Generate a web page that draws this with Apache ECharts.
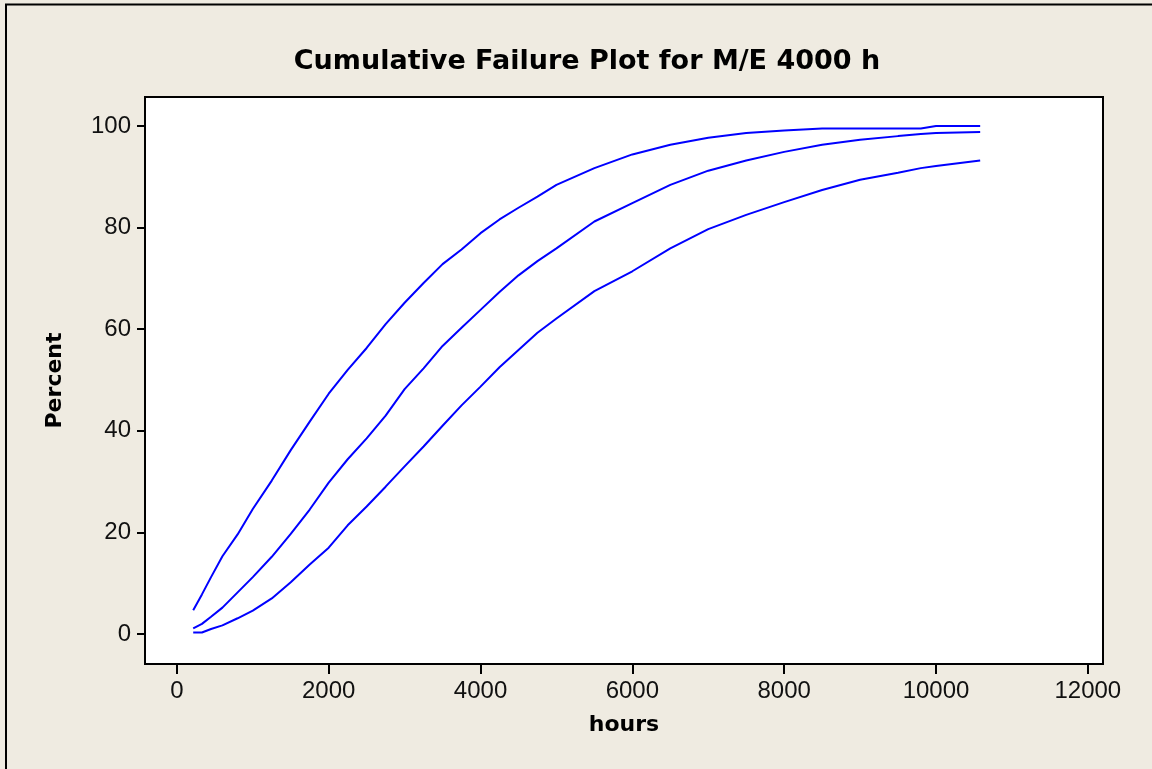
<!DOCTYPE html>
<html>
<head>
<meta charset="utf-8">
<script src="https://cdn.jsdelivr.net/npm/echarts@6/dist/echarts.min.js"></script>
<style>
  html, body { margin: 0; padding: 0; background: #efebe1; }
  #chart { width: 1152px; height: 769px; }
</style>
</head>
<body>
<div id="chart"></div>
<script>
var hours = [215, 330, 450, 600, 800, 1000, 1250, 1500, 1750, 2000, 2250, 2500, 2750, 3000, 3250, 3500, 3750,
  4000, 4250, 4500, 4750, 5000, 5500, 6000, 6500, 7000, 7500, 8000, 8500, 9000, 9500, 9800, 10000, 10582]
// upper confidence bound
var upperPct = [4.7, 7.8, 11.2, 15.3, 19.6, 24.6, 30.2, 36.2, 41.8, 47.3, 52.0, 56.3, 61.0, 65.2, 69.1, 72.8, 75.7,
  78.9, 81.6, 83.9, 86.1, 88.4, 91.7, 94.4, 96.3, 97.7, 98.6, 99.1, 99.5, 99.5, 99.5, 99.5, 100, 100]
// fitted cumulative failure
var fitPct = [1.1, 2.0, 3.4, 5.2, 8.2, 11.2, 15.2, 19.7, 24.5, 29.8, 34.4, 38.5, 43.0, 48.2, 52.3, 56.7, 60.3,
  63.8, 67.3, 70.6, 73.4, 75.9, 81.2, 84.8, 88.4, 91.2, 93.2, 94.9, 96.3, 97.3, 98.0, 98.4, 98.6, 98.8]
// lower confidence bound
var lowerPct = [0.3, 0.3, 1.0, 1.7, 3.1, 4.6, 7.0, 10.2, 13.7, 17.0, 21.4, 25.1, 29.0, 33.0, 36.9, 41.0, 45.0,
  48.7, 52.5, 55.9, 59.3, 62.1, 67.5, 71.4, 75.9, 79.7, 82.5, 85.0, 87.4, 89.4, 90.8, 91.7, 92.1, 93.2]

var xTicks = [0, 2000, 4000, 6000, 8000, 10000, 12000]
var yTicks = [0, 20, 40, 60, 80, 100]

function pairs(vals) {
  var out = []
  for (var i = 0; i < hours.length; i++) {
    out.push([hours[i], vals[i]])
  }
  return out
}

var chart = echarts.init(document.getElementById('chart'))
var font = 'Liberation Sans'
var boldFont = 'DejaVu Sans'
var seriesList = [upperPct, fitPct, lowerPct].map(function (vals) {
  return {
    type: 'line',
    data: pairs(vals),
    showSymbol: false,
    silent: true,
    lineStyle: { color: '#0000ff', width: 2 }
  }
})

chart.setOption({
  backgroundColor: '#efebe1',
  animation: false,
  graphic: [{
    type: 'rect',
    shape: { x: 6, y: 4.5, width: 1300, height: 900 },
    style: { fill: 'none', stroke: '#000', lineWidth: 2 }
  }],
  title: {
    text: 'Cumulative Failure Plot for M/E 4000 h',
    left: 582,
    top: 43,
    textAlign: 'center',
    textStyle: { fontFamily: boldFont, fontWeight: 'bold', fontSize: 27, color: '#000' }
  },
  grid: {
    left: 145, top: 97, right: 49, bottom: 105,
    show: true, backgroundColor: '#fff', borderColor: '#000', borderWidth: 2
  },
  xAxis: {
    type: 'value',
    min: -420,
    max: 12200,
    name: 'hours',
    nameLocation: 'middle',
    nameGap: 50,
    nameTextStyle: { fontFamily: boldFont, fontWeight: 'bold', fontSize: 22, color: '#000' },
    axisLine: { show: true, onZero: false, lineStyle: { color: '#000', width: 2 } },
    axisTick: { show: true, length: 10, customValues: xTicks, lineStyle: { color: '#000', width: 2 } },
    axisLabel: {
      customValues: xTicks, margin: 15, fontFamily: font, fontSize: 24, color: '#111',
      formatter: function (v) { return String(v) }
    },
    splitLine: { show: false }
  },
  yAxis: {
    type: 'value',
    min: -5.9,
    max: 105.7,
    name: 'Percent',
    nameLocation: 'middle',
    nameGap: 79,
    nameTextStyle: { fontFamily: boldFont, fontWeight: 'bold', fontSize: 22, color: '#000' },
    axisLine: { show: true, onZero: false, lineStyle: { color: '#000', width: 2 } },
    axisTick: { show: true, length: 8, customValues: yTicks, lineStyle: { color: '#000', width: 2 } },
    axisLabel: {
      customValues: yTicks, margin: 14, fontFamily: font, fontSize: 24, color: '#111',
      formatter: function (v) { return String(v) }
    },
    splitLine: { show: false }
  },
  series: seriesList
})
</script>
</body>
</html>
